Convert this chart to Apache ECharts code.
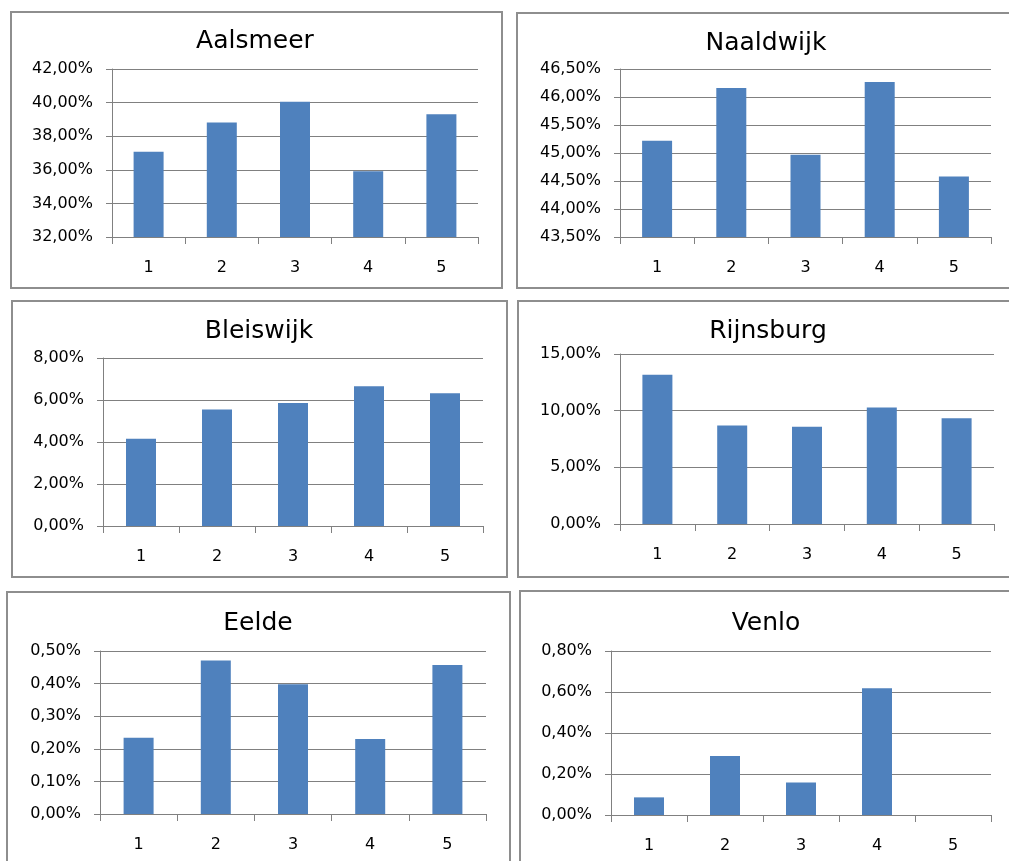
<!DOCTYPE html>
<html>
<head>
<meta charset="utf-8">
<title>Percentages per location</title>
<script src="https://cdn.jsdelivr.net/npm/echarts/dist/echarts.min.js"></script>
<style>
  html, body { margin: 0; padding: 0; background: #fff; }
  #chart { width: 1009px; height: 861px; }
</style>
</head>
<body>
<div id="chart"></div>
<script>
// data (values in %)
const categories = ['1', '2', '3', '4', '5'];
const titles = ['Aalsmeer', 'Naaldwijk', 'Bleiswijk', 'Rijnsburg', 'Eelde', 'Venlo'];
const aalsmeer = [37.08, 38.81, 40.05, 35.92, 39.31];
const naaldwijk = [45.22, 46.16, 44.97, 46.27, 44.58];
const bleiswijk = [4.15, 5.55, 5.86, 6.66, 6.32];
const rijnsburg = [13.18, 8.69, 8.57, 10.27, 9.33];
const eelde = [0.234, 0.471, 0.398, 0.230, 0.457];
const venlo = [0.086, 0.288, 0.159, 0.618, 0];
// y axis ticks
const yMin = [32, 43.5, 0, 0, 0, 0];
const yMax = [42, 46.5, 8, 15, 0.5, 0.8];
const yStep = [2, 0.5, 2, 5, 0.1, 0.2];

const seriesData = [aalsmeer, naaldwijk, bleiswijk, rijnsburg, eelde, venlo];

// layout of the six panels
const grids = [
  { left: 112, top: 69, width: 366, height: 168 },
  { left: 620, top: 69, width: 371, height: 168 },
  { left: 103, top: 358, width: 380, height: 168 },
  { left: 620, top: 354, width: 374, height: 170 },
  { left: 100, top: 651, width: 386, height: 163 },
  { left: 611, top: 651, width: 380, height: 164 }
];
const titlePos = [[255, 29], [766, 31], [259, 319], [768, 319], [258, 611], [766, 611]];
const boxes = [
  [11, 12, 491, 276],
  [517, 13, 500, 275],
  [12, 301, 495, 276],
  [518, 301, 500, 276],
  [7, 592, 503, 280],
  [520, 591, 500, 280]
];

const font = 'DejaVu Sans';
const gray = '#808080';

function pct (v) {
  return v.toFixed(2).replace('.', ',') + '%';
}

const myChart = echarts.init(document.getElementById('chart'));

const option = {
  backgroundColor: '#fff',
  animation: false,
  title: titles.map((t, i) => ({
    text: t,
    left: titlePos[i][0],
    top: titlePos[i][1],
    textAlign: 'center',
    padding: 0,
    textStyle: { fontFamily: font, fontSize: 25, fontWeight: 'normal', color: '#000' }
  })),
  grid: grids.map(g => Object.assign({ containLabel: false }, g)),
  xAxis: grids.map((g, i) => ({
    type: 'category',
    gridIndex: i,
    data: categories,
    axisLine: { lineStyle: { color: gray, width: 1 } },
    axisTick: { show: true, length: 7, lineStyle: { color: gray } },
    axisLabel: { margin: 23, fontFamily: font, fontSize: 16, color: '#000' },
    splitLine: { show: false }
  })),
  yAxis: grids.map((g, i) => ({
    type: 'value',
    gridIndex: i,
    min: yMin[i],
    max: yMax[i],
    interval: yStep[i],
    axisLine: { show: true, lineStyle: { color: gray, width: 1 } },
    axisTick: { show: true, length: 6, lineStyle: { color: gray } },
    axisLabel: { margin: 19, fontFamily: font, fontSize: 16, color: '#000', formatter: pct },
    splitLine: { show: true, lineStyle: { color: gray, width: 1 } }
  })),
  series: seriesData.map((d, i) => ({
    type: 'bar',
    xAxisIndex: i,
    yAxisIndex: i,
    barWidth: 30,
    itemStyle: { color: '#4f81bd' },
    data: d
  })),
  // panel frames
  graphic: boxes.map(b => ({
    type: 'rect',
    shape: { x: b[0], y: b[1], width: b[2], height: b[3] },
    style: { fill: 'none', stroke: '#8e8e8e', lineWidth: 2 },
    silent: true,
    z: 100
  }))
};

myChart.setOption(option);
</script>
</body>
</html>
